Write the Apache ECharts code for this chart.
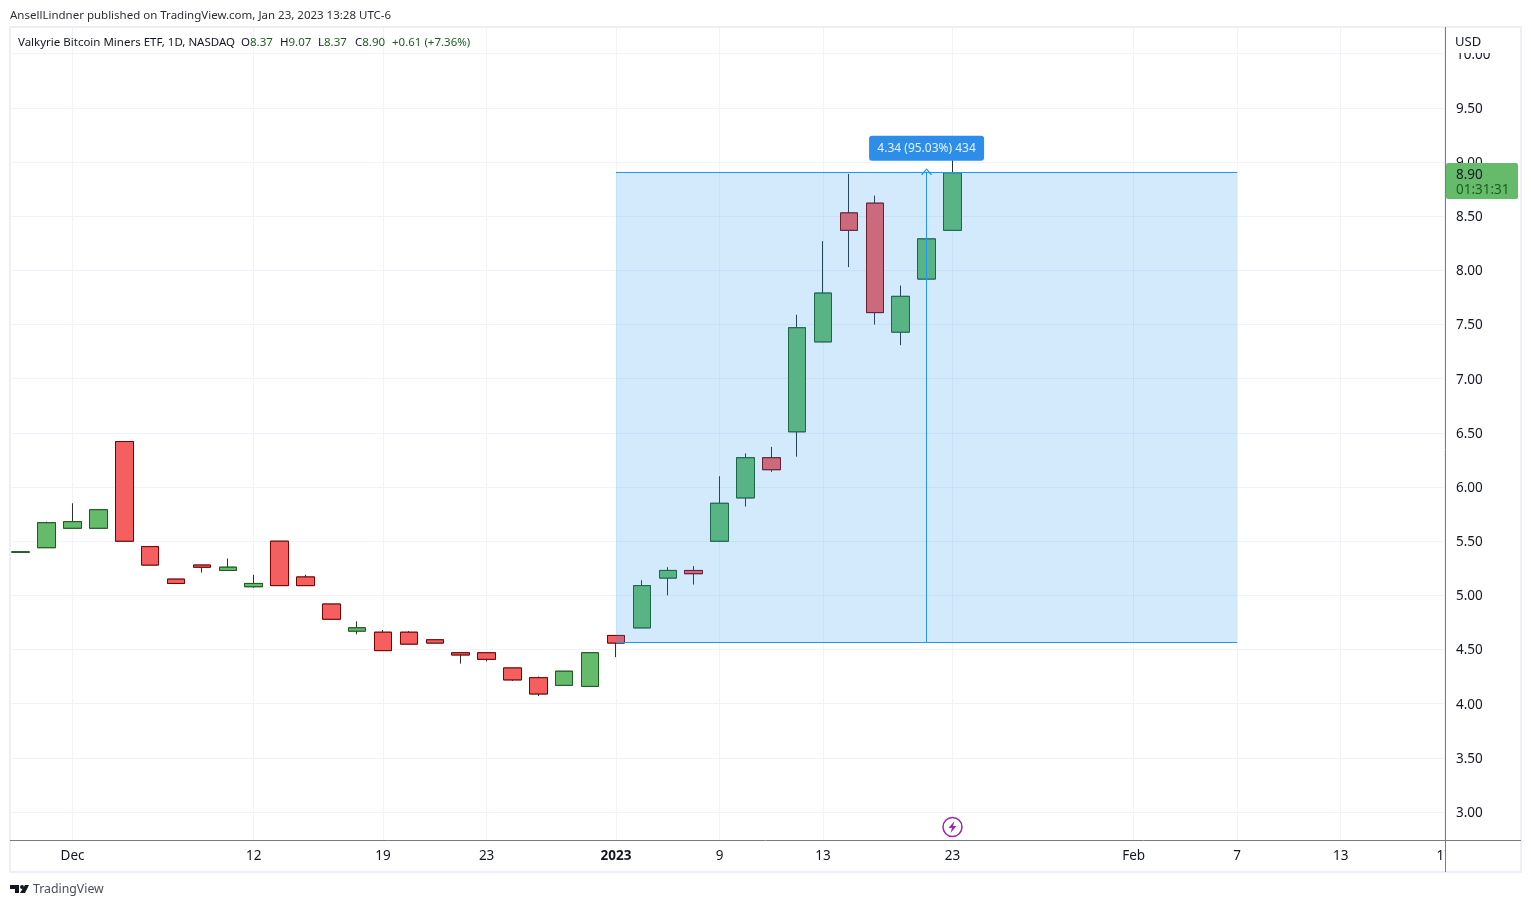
<!DOCTYPE html>
<html lang="en" style="height: 100%">
  <head>
    <meta charset="utf-8" />
    <title>Valkyrie Bitcoin Miners ETF</title>
    <script src="https://cdn.jsdelivr.net/npm/echarts@6/dist/echarts.min.js"></script>
  </head>
  <body style="height: 100%; margin: 0; background: #fff">
    <div id="container" style="width: 1531px; height: 907px"></div>

    <script type="text/javascript">
      // daily bars, one trading day each
      const dates = ["Nov 29", "Nov 30", "Dec 1", "Dec 2", "Dec 5", "Dec 6", "Dec 7", "Dec 8", "Dec 9", "Dec 12", "Dec 13", "Dec 14", "Dec 15", "Dec 16", "Dec 19", "Dec 20", "Dec 21", "Dec 22", "Dec 23", "Dec 27", "Dec 28", "Dec 29", "Dec 30", "Jan 3", "Jan 4", "Jan 5", "Jan 6", "Jan 9", "Jan 10", "Jan 11", "Jan 12", "Jan 13", "Jan 17", "Jan 18", "Jan 19", "Jan 20", "Jan 23"];
      const opens = [5.4, 5.44, 5.62, 5.62, 6.42, 5.45, 5.15, 5.28, 5.23, 5.08, 5.5, 5.17, 4.92, 4.67, 4.66, 4.66, 4.59, 4.47, 4.47, 4.33, 4.24, 4.17, 4.16, 4.63, 4.7, 5.16, 5.23, 5.5, 5.9, 6.27, 6.51, 7.34, 8.53, 8.62, 7.43, 7.92, 8.37];
      const closes = [5.4, 5.67, 5.68, 5.79, 5.5, 5.28, 5.11, 5.26, 5.26, 5.11, 5.09, 5.09, 4.78, 4.7, 4.49, 4.55, 4.56, 4.45, 4.41, 4.22, 4.09, 4.3, 4.47, 4.56, 5.09, 5.23, 5.2, 5.85, 6.27, 6.16, 7.47, 7.79, 8.37, 7.61, 7.76, 8.29, 8.9];
      const lows = [5.4, 5.44, 5.62, 5.62, 5.5, 5.28, 5.11, 5.21, 5.23, 5.07, 5.09, 5.09, 4.78, 4.64, 4.49, 4.55, 4.56, 4.37, 4.39, 4.21, 4.07, 4.17, 4.16, 4.43, 4.7, 5.0, 5.1, 5.5, 5.82, 6.14, 6.28, 7.34, 8.03, 7.5, 7.31, 7.92, 8.37];
      const highs = [5.4, 5.68, 5.85, 5.79, 6.42, 5.45, 5.15, 5.28, 5.34, 5.19, 5.5, 5.19, 4.92, 4.76, 4.68, 4.67, 4.59, 4.47, 4.47, 4.33, 4.25, 4.3, 4.47, 4.63, 5.14, 5.26, 5.27, 6.1, 6.31, 6.37, 7.59, 8.27, 8.89, 8.69, 7.86, 8.29, 9.07];

      const yTicks = [3, 3.5, 4, 4.5, 5, 5.5, 6, 6.5, 7, 7.5, 8, 8.5, 9, 9.5, 10];
      const xTickIndex = [2, 9, 14, 18, 23, 27, 31, 36, 43, 47, 51, 55];
      const xTickLabels = ["Dec", "12", "19", "23", "{b|2023}", "9", "13", "23", "Feb", "7", "13", "17"];

      // long position tool, from bar to bar
      const rangeStart = 23;
      const rangeEnd = 47;
      const rangeMid = 35;
      const rangeLow = 4.565;
      const rangeHigh = 8.91;

      const font = '"Noto Sans", sans-serif';
      const gridColor = "#f0f3fa";
      const axisColor = "#787b86";
      const blue = "#2196f3";

      const bodyData = [];
      const wickData = [];
      for (let i = 0; i < dates.length; i++) {
        wickData.push([i, opens[i], closes[i], lows[i], highs[i]]);
        bodyData.push([i, opens[i], closes[i], Math.min(opens[i], closes[i]), Math.max(opens[i], closes[i])]);
      }

      function legendText(x, label, value) {
        return {
          type: "text",
          z: 24,
          x: x,
          y: 37,
          style: {
            text: label + "{g|" + value + "}",
            font: "11.5px " + font,
            fill: "#131722",
            rich: { g: { fill: "#1b5e20", font: "11.5px " + font } },
          },
        };
      }

      var dom = document.getElementById("container");
      var myChart = echarts.init(dom, null, { renderer: "canvas" });

      var option = {
        animation: false,
        backgroundColor: "#ffffff",
        textStyle: { fontFamily: font },
        grid: { left: 11, top: 28, right: 86, bottom: 67 },
        xAxis: {
          type: "value",
          min: -0.376,
          max: 55.03,
          axisLine: { show: false },
          axisTick: { show: false, customValues: xTickIndex },
          splitLine: { show: true, lineStyle: { color: gridColor, width: 1 } },
          axisLabel: {
            customValues: xTickIndex,
            margin: 9,
            fontSize: 13.5,
            fontFamily: font,
            color: "#131722",
            hideOverlap: false,
            formatter: function (v) {
              return xTickLabels[xTickIndex.indexOf(v)];
            },
            rich: {
              b: { fontSize: 13.5, fontWeight: "bold", fontFamily: font, color: "#131722" },
            },
          },
        },
        yAxis: {
          type: "value",
          position: "right",
          min: 2.742,
          max: 10.237,
          scale: true,
          axisLine: { show: false },
          axisTick: { show: false, customValues: yTicks },
          splitLine: { show: true, lineStyle: { color: gridColor, width: 1 } },
          axisLabel: {
            customValues: yTicks,
            margin: 11,
            fontSize: 13.5,
            fontFamily: font,
            color: "#131722",
            formatter: function (v) {
              return "{p|" + v.toFixed(2) + "}";
            },
            rich: {
              p: { fontSize: 13.5, fontFamily: font, color: "#131722", padding: [2, 0, 0, 0] },
            },
          },
        },
        series: [
          {
            // wicks are a different colour from the body borders, so two layers
            name: "wicks",
            type: "candlestick",
            barWidth: 18,
            z: 2,
            encode: { x: 0, y: [1, 2, 3, 4] },
            itemStyle: {
              color: "#263238",
              color0: "#263238",
              borderColor: "#263238",
              borderColor0: "#263238",
              borderWidth: 1,
            },
            data: wickData,
          },
          {
            name: "bodies",
            type: "candlestick",
            barWidth: 18,
            z: 3,
            encode: { x: 0, y: [1, 2, 3, 4] },
            itemStyle: {
              color: "#66bb6a",
              color0: "#f55f5f",
              borderColor: "#1b5e20",
              borderColor0: "#7f0000",
              borderWidth: 1,
            },
            data: bodyData,
          },
          {
            name: "range",
            type: "line",
            z: 5,
            data: [],
            markArea: {
              silent: true,
              z: 5,
              itemStyle: { color: "rgba(33,150,243,0.2)" },
              data: [[{ coord: [rangeStart, rangeHigh] }, { coord: [rangeEnd, rangeLow] }]],
            },
            markLine: {
              silent: true,
              z: 6,
              symbol: "none",
              precision: 4,
              label: { show: false },
              lineStyle: { color: blue, width: 1, type: "solid" },
              data: [
                [{ coord: [rangeStart, rangeHigh] }, { coord: [rangeEnd, rangeHigh] }],
                [{ coord: [rangeStart, rangeLow] }, { coord: [rangeEnd, rangeLow] }],
                [
                  { coord: [rangeMid, rangeLow], symbol: "none" },
                  {
                    coord: [rangeMid, rangeHigh],
                    symbol: "path://M0 7 L5 0 L10 7 L9 8 L5 2 L1 8 Z",
                    symbolSize: [11, 7],
                  },
                ],
              ],
            },
            markPoint: {
              silent: true,
              z: 7,
              data: [
                {
                  coord: [rangeMid, rangeHigh],
                  symbol: "path://M3 0 H112 A3 3 0 0 1 115 3 V22 A3 3 0 0 1 112 25 H3 A3 3 0 0 1 0 22 V3 A3 3 0 0 1 3 0 Z",
                  symbolSize: [115, 25],
                  symbolOffset: [0, -23.5],
                  itemStyle: { color: "#2d8eea" },
                  label: {
                    show: true,
                    position: "inside",
                    formatter: "4.34 (95.03%) 434",
                    color: "#e4f2fe",
                    fontSize: 12,
                    fontFamily: font,
                  },
                },
              ],
            },
          },
        ],
        graphic: [
          // frame
          { type: "rect", z: 20, shape: { x: 10, y: 27, width: 1511, height: 845 }, style: { fill: "none", stroke: "#eeeff6", lineWidth: 2 } },
          // covers for the price column, so axis text clips like the original
          { type: "rect", z: 21, shape: { x: 1446, y: 29, width: 74, height: 24 }, style: { fill: "#fff" } },
          { type: "rect", z: 21, shape: { x: 1446, y: 842, width: 74, height: 29 }, style: { fill: "#fff" } },
          { type: "line", z: 22, shape: { x1: 1445.5, y1: 27, x2: 1445.5, y2: 872 }, style: { stroke: axisColor, lineWidth: 1 } },
          { type: "line", z: 22, shape: { x1: 10, y1: 840.5, x2: 1521, y2: 840.5 }, style: { stroke: axisColor, lineWidth: 1 } },
          { type: "text", z: 23, x: 1455, y: 36, style: { text: "USD", font: "13px " + font, fill: "#131722" } },
          // last price tag
          { type: "rect", z: 23, shape: { x: 1446, y: 163, width: 72, height: 36, r: 2 }, style: { fill: "#66bb6a" } },
          { type: "text", z: 24, x: 1456, y: 168, style: { text: "8.90", font: "13.5px " + font, fill: "#131722" } },
          { type: "text", z: 24, x: 1456, y: 183, style: { text: "01:31:31", font: "13.5px " + font, fill: "#1b5e20" } },
          // header lines
          { type: "text", z: 24, x: 10, y: 10, style: { text: "AnsellLindner published on TradingView.com, Jan 23, 2023 13:28 UTC-6", font: "11.5px " + font, fill: "#2a2e39" } },
          { type: "text", z: 24, x: 18, y: 37, style: { text: "Valkyrie Bitcoin Miners ETF, 1D, NASDAQ", font: "11.5px " + font, fill: "#131722" } },
          legendText(241, "O", "8.37"),
          legendText(280, "H", "9.07"),
          legendText(318, "L", "8.37"),
          legendText(355, "C", "8.90"),
          legendText(392, "", "+0.61 (+7.36%)"),
          // news marker under the last bar
          { type: "circle", z: 24, shape: { cx: 952.5, cy: 827, r: 9.5 }, style: { fill: "#fff", stroke: "#9c27b0", lineWidth: 1.5 } },
          { type: "polygon", z: 25, shape: { points: [[954.5, 821], [948.5, 828], [952, 828], [950.5, 833], [956.5, 826], [953, 826]] }, style: { fill: "#9c27b0" } },
          // TradingView logo
          { type: "polygon", z: 24, shape: { points: [[10, 885], [19, 885], [19, 893], [15, 893], [15, 889], [10, 889]] }, style: { fill: "#131722" } },
          { type: "circle", z: 24, shape: { cx: 22, cy: 887, r: 2 }, style: { fill: "#131722" } },
          { type: "polygon", z: 24, shape: { points: [[25, 885], [29, 885], [25, 893], [20, 893]] }, style: { fill: "#131722" } },
          { type: "text", z: 24, x: 33, y: 883, style: { text: "TradingView", font: "12.3px " + font, fill: "#4a4e59" } },
        ],
      };

      myChart.setOption(option);
      window.addEventListener("resize", myChart.resize);
    </script>
  </body>
</html>
